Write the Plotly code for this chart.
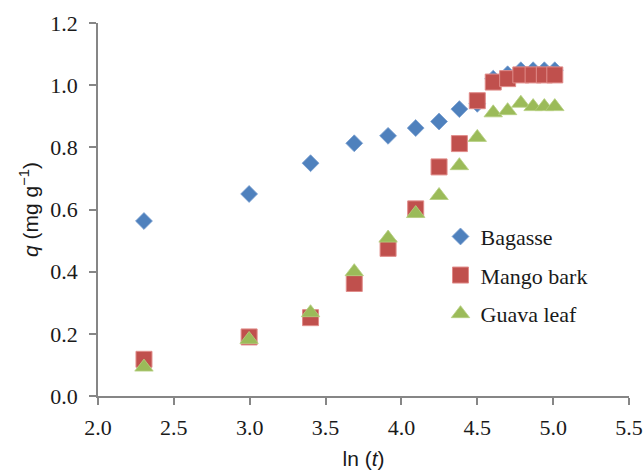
import plotly.graph_objects as go

ln_t = [2.303, 2.996, 3.401, 3.689, 3.912, 4.094, 4.248, 4.382, 4.500, 4.605, 4.700, 4.787, 4.868, 4.942, 5.011]
bagasse = [0.563, 0.650, 0.749, 0.813, 0.837, 0.862, 0.883, 0.923, 0.940, 1.021, 1.035, 1.048, 1.048, 1.048, 1.048]
mango_bark = [0.118, 0.190, 0.252, 0.362, 0.475, 0.602, 0.737, 0.812, 0.950, 1.010, 1.021, 1.033, 1.033, 1.033, 1.033]
guava_leaf = [0.093, 0.182, 0.268, 0.400, 0.508, 0.587, 0.645, 0.741, 0.832, 0.911, 0.918, 0.942, 0.931, 0.931, 0.931]

x_ticks = [2.0, 2.5, 3.0, 3.5, 4.0, 4.5, 5.0, 5.5]
y_ticks = [0.0, 0.2, 0.4, 0.6, 0.8, 1.0, 1.2]

fig = go.Figure()
fig.add_trace(go.Scatter(x=ln_t, y=bagasse, mode="markers", name="Bagasse", legendgroup="a",
                         marker=dict(symbol="diamond", size=13, color="#4F81BD",
                                     line=dict(width=0.8, color="#7A9FD0"))))
fig.add_trace(go.Scatter(x=ln_t, y=mango_bark, mode="markers", name="Mango bark", legendgroup="b",
                         marker=dict(symbol="square", size=16, color="#C0504D",
                                     line=dict(width=1, color="#E08C8A"))))
fig.add_trace(go.Scatter(x=ln_t, y=guava_leaf, mode="markers", name="Guava leaf", legendgroup="c",
                         marker=dict(symbol="triangle-up", size=16, color="#9BBB59",
                                     line=dict(width=0.8, color="#B5CF80"))))

axis_common = dict(showgrid=False, zeroline=False, showline=True, linecolor="#868686", linewidth=1.5,
                   ticks="outside", ticklen=7, tickcolor="#868686", tickwidth=1.5, automargin=False,
                   tickfont=dict(family="Liberation Serif", size=22, color="#1a1a1a"))

fig.update_layout(
    width=644, height=470,
    margin=dict(l=98, r=15, t=23, b=74),
    paper_bgcolor="white", plot_bgcolor="white",
    xaxis=dict(range=[2.0, 5.5], tickvals=x_ticks, ticktext=[f"{v:.1f}" for v in x_ticks],
               ticklabelstandoff=4,
               title=dict(text="ln (<i>t</i>)", font=dict(family="Liberation Sans", size=21, color="#1a1a1a"),
                          standoff=12),
               **axis_common),
    yaxis=dict(range=[0.0, 1.2], tickvals=y_ticks, ticktext=[f"{v:.1f}" for v in y_ticks],
               ticklabelstandoff=7,
               title=dict(text="<i>q</i> (mg g<sup>−1</sup>)", font=dict(family="Liberation Sans", size=21, color="#1a1a1a"),
                          standoff=6),
               **axis_common),
    legend=dict(x=0.645, y=0.324, xanchor="left", yanchor="middle",
                font=dict(family="Liberation Serif", size=22, color="#1a1a1a"),
                bgcolor="rgba(0,0,0,0)", tracegroupgap=7, traceorder="grouped"),
    showlegend=True,
)

fig.write_html("out.html", config={"displayModeBar": False},
               post_script="document.body.style.margin='0';")
